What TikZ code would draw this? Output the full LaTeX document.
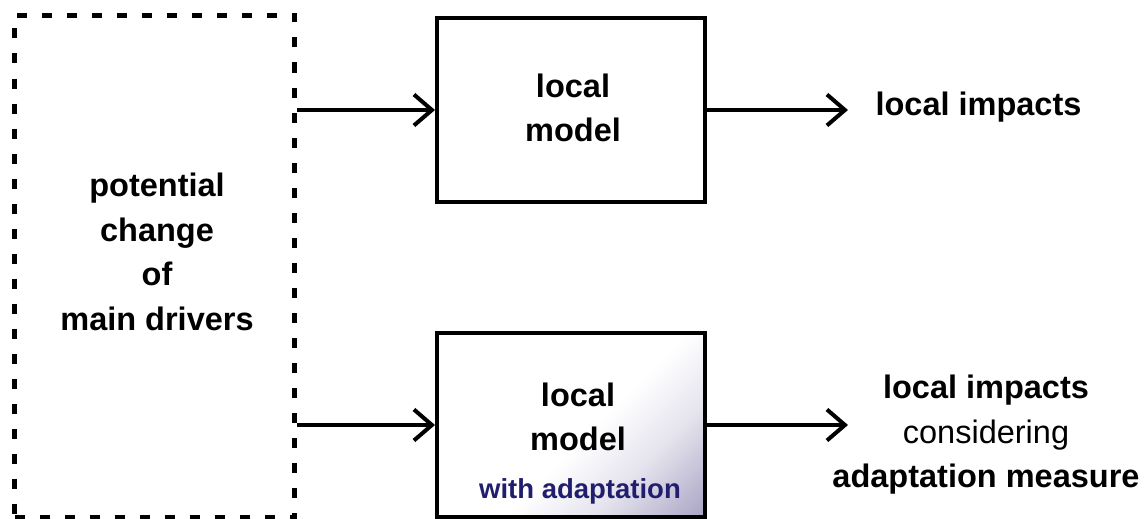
\documentclass[tikz,border=0pt]{standalone}
\usepackage{fontspec}
\setmainfont{Liberation Sans}
\usetikzlibrary{arrows.meta}
\definecolor{adaptblue}{HTML}{221E6E}
\definecolor{adaptshade}{HTML}{6E649C}
\pgfdeclareverticalshading{adaptfade}{100bp}{color(0bp)=(adaptshade); color(14bp)=(adaptshade!60!white); color(32bp)=(adaptshade!18!white); color(46bp)=(white); color(100bp)=(white)}
\newcommand{\labelfont}{\fontsize{32.5}{44.5}\selectfont\bfseries}

\begin{document}
\begin{tikzpicture}[x=1pt,y=-1pt,
	modelbox/.style = {draw, line width=4pt, minimum width=268pt, minimum height=184pt},
	flow/.style = {-{Straight Barb[length=18pt,width=31pt]}, line width=4pt}]
	\useasboundingbox (0,0) rectangle (1148,519);
	% dashed driver box
	\node[draw, line width=5pt, dash pattern=on 10pt off 15pt,
		minimum width=280pt, minimum height=502pt] (drivers) at (154.5,266.5) {};
	\node[align=center, font=\labelfont] (driverstxt) at (157,252)
		{potential\\change\\of\\main drivers};
	% models
	\node[modelbox] (model) at (571,110) {};
	\node[align=center, font=\labelfont] (modeltxt) at (573,108) {local\\model};
	\shade[shading=adaptfade, shading angle=45] (437.5,334.5) rectangle (704.5,515.5);
	\node[modelbox] (adapt) at (571,425) {};
	\node[align=center, font=\labelfont] (adapttxt) at (578,417) {local\\model};
	\node[font=\fontsize{27.5}{32}\selectfont\bfseries, text=adaptblue] (adaptnote) at (580,491) {with adaptation};
	% outputs
	\node[font=\labelfont, anchor=west] (impacts) at (872,107) {local impacts};
	\node[align=center, font=\labelfont] (impactsadapt) at (986,435)
		{local impacts\\{\mdseries considering}\\adaptation measure};
	\coordinate (tipA) at (848,110);
	\coordinate (tipB) at (848,425);
	% connectors
	\draw[flow] (drivers.east |- model.west) -- (model.west);
	\draw[flow] (drivers.east |- adapt.west) -- (adapt.west);
	\draw[flow] (model.east) -- (tipA);
	\draw[flow] (adapt.east) -- (tipB);
\end{tikzpicture}
\end{document}
